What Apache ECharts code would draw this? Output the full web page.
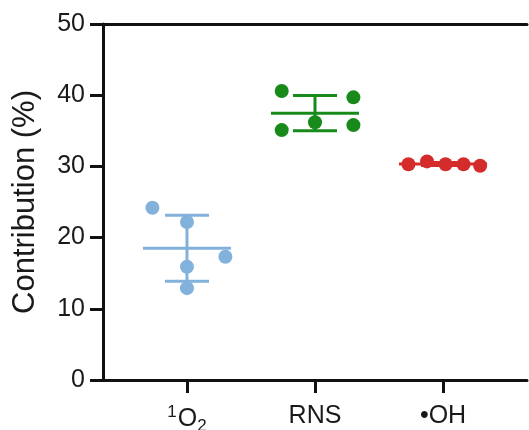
<!DOCTYPE html>
<html>
<head>
<meta charset="utf-8">
<script src="https://cdn.jsdelivr.net/npm/echarts@6/dist/echarts.min.js"></script>
<style>html,body{margin:0;padding:0;background:#fff}#c{width:529px;height:430px}</style>
</head>
<body>
<div id="c"></div>
<script>
// Categories and tick labels
var categories = ['1O2', 'RNS', '•OH'];
var categoryPos = [1, 2, 3];
var yTicks = [0, 10, 20, 30, 40, 50];

// Series values
var o2X = [0.73, 1.0, 1.30, 1.0, 1.0];
var o2Y = [24.2, 22.2, 17.3, 15.9, 12.9];
var rnsX = [1.74, 2.30, 2.0, 1.74, 2.30];
var rnsY = [40.6, 39.7, 36.2, 35.1, 35.8];
var ohX = [2.73, 2.875, 3.02, 3.16, 3.29];
var ohY = [30.3, 30.7, 30.3, 30.3, 30.1];

var colors = ['#82b2dc', '#178a1a', '#d42b2b'];

function pairs(xs, ys) { return xs.map(function (x, i) { return [x, ys[i]]; }); }
function mean(a) { return a.reduce(function (s, v) { return s + v; }, 0) / a.length; }
function sd(a) { var m = mean(a); return Math.sqrt(a.reduce(function (s, v) { return s + (v - m) * (v - m); }, 0) / (a.length - 1)); }

var groups = [o2Y, rnsY, ohY];
var stats = groups.map(function (g, i) { return [categoryPos[i], mean(g), sd(g), i]; });

var chart = echarts.init(document.getElementById('c'));
var font = 'Liberation Sans, Arial, sans-serif';
chart.setOption({
  animation: false,
  backgroundColor: '#fff',
  grid: { left: 103, right: 2, top: 24, bottom: 50, containLabel: false, outerBoundsMode: 'none' },
  xAxis: [{
    type: 'value', min: 0.344, max: 3.656,
    axisLine: { show: true, onZero: false, lineStyle: { color: '#111', width: 3 } },
    splitLine: { show: false },
    axisTick: { show: true, customValues: categoryPos, length: 13, lineStyle: { color: '#111', width: 3 } },
    axisLabel: {
      customValues: categoryPos, margin: 24, color: '#1a1a1a', fontFamily: font, fontSize: 25,
      formatter: function (v) {
        var idx = categoryPos.indexOf(Math.round(v));
        if (idx === 0) return '{sup|1}{n|O}{sub|2}';
        return '{n|' + categories[idx] + '}';
      },
      rich: {
        n: { fontSize: 25, fontFamily: font, color: '#1a1a1a' },
        sup: { fontSize: 17, fontFamily: font, color: '#1a1a1a', padding: [0, 1, 14, 0] },
        sub: { fontSize: 17, fontFamily: font, color: '#1a1a1a', padding: [14, 0, 0, 0] }
      }
    }
  }, {
    type: 'value', position: 'top', min: 0.344, max: 3.656,
    axisLine: { show: true, onZero: false, lineStyle: { color: '#111', width: 3 } },
    axisTick: { show: false }, axisLabel: { show: false }, splitLine: { show: false }
  }],
  yAxis: {
    type: 'value', min: 0, max: 50, interval: 10,
    name: 'Contribution (%)', nameLocation: 'middle', nameGap: 62,
    nameTextStyle: { fontSize: 31, fontFamily: font, color: '#1a1a1a' },
    axisLine: { show: true, lineStyle: { color: '#111', width: 3 } },
    axisTick: { show: true, length: 13, lineStyle: { color: '#111', width: 3 } },
    splitLine: { show: false },
    axisLabel: { margin: 18, color: '#1a1a1a', fontFamily: font, fontSize: 25,
      formatter: function (v) { return yTicks.indexOf(v) >= 0 ? String(v) : ''; } }
  },
  series: [
    { type: 'scatter', data: pairs(o2X, o2Y), symbolSize: 14, itemStyle: { color: colors[0], opacity: 1 }, z: 2 },
    { type: 'scatter', data: pairs(rnsX, rnsY), symbolSize: 14, itemStyle: { color: colors[1], opacity: 1 }, z: 2 },
    { type: 'scatter', data: pairs(ohX, ohY), symbolSize: 14, itemStyle: { color: colors[2], opacity: 1 }, z: 2 },
    {
      type: 'custom', z: 3, data: stats,
      renderItem: function (params, api) {
        var x = api.value(0), m = api.value(1), s = api.value(2), i = api.value(3);
        var c = colors[i];
        var st = { stroke: c, lineWidth: 3 };
        function seg(x1, y1, x2, y2) {
          var p1 = api.coord([x1, y1]), p2 = api.coord([x2, y2]);
          return { type: 'line', shape: { x1: p1[0], y1: p1[1], x2: p2[0], y2: p2[1] }, style: st };
        }
        return { type: 'group', children: [
          seg(x - 0.344, m, x + 0.344, m),
          seg(x, m - s, x, m + s),
          seg(x - 0.172, m + s, x + 0.172, m + s),
          seg(x - 0.172, m - s, x + 0.172, m - s)
        ] };
      }
    }
  ]
});
</script>
</body>
</html>
